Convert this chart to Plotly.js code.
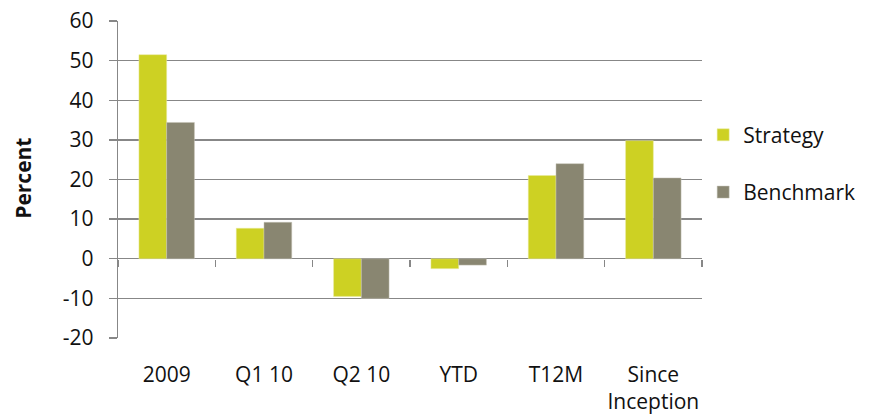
<!DOCTYPE html>
<html>
<head>
<meta charset="utf-8">
<script src="https://cdn.plot.ly/plotly-3.0.1.min.js"></script>
<style>html,body{margin:0;padding:0;background:#fff;}#chart{width:877px;height:417px;}</style>
</head>
<body>
<div id="chart"></div>
<script>
const categories = ["2009", "Q1 10", "Q2 10", "YTD", "T12M", "Since<br>Inception"];
const strategy = [51.5, 7.7, -9.5, -2.5, 21.0, 29.8];
const benchmark = [34.4, 9.2, -10.0, -1.6, 24.0, 20.4];
const seriesNames = ["Strategy", "Benchmark"];
const yTicks = [-20, -10, 0, 10, 20, 30, 40, 50, 60];
const yTickText = ["-20", "-10", "0", "10", "20", "30", "40", "50", "60"];
const yTitle = "Percent";

const FONT = "'Open Sans', Lato, sans-serif";
const GRID = "#878787";
const TXT = "#111111";

const traces = [
  {type: "bar", name: seriesNames[0], x: categories, y: strategy,
   marker: {color: "#cdd123", line: {color: "#e8eba0", width: 0.5}},
   legendgroup: "s", hoverinfo: "skip"},
  {type: "bar", name: seriesNames[1], x: categories, y: benchmark,
   marker: {color: "#898671", line: {color: "#c4c3b6", width: 0.5}},
   legendgroup: "b", hoverinfo: "skip"},
  {type: "scatter", mode: "markers", x: categories, y: categories.map(() => 0),
   xaxis: "x2", yaxis: "y", marker: {opacity: 0, size: 1},
   showlegend: false, hoverinfo: "skip"}
];

const layout = {
  width: 877, height: 417,
  margin: {l: 118, r: 175, t: 21, b: 79},
  paper_bgcolor: "#fff", plot_bgcolor: "#fff",
  font: {family: FONT, size: 21, color: TXT},
  barmode: "group", bargap: 0.43, bargroupgap: 0,
  showlegend: true,
  legend: {x: 1.002, xanchor: "left", y: 0.55, yanchor: "middle",
           traceorder: "grouped", tracegroupgap: 27,
           font: {family: FONT, size: 21, color: TXT}, itemwidth: 30},
  xaxis: {type: "category", showgrid: false, zeroline: false, showline: false,
          ticks: "", tickfont: {family: FONT, size: 21, color: TXT},
          ticklabelstandoff: 22, automargin: false, fixedrange: true},
  xaxis2: {type: "category", overlaying: "x", anchor: "free", position: 0.25,
           side: "bottom", showticklabels: false, showgrid: false, zeroline: false,
           showline: false, ticks: "outside", tickson: "boundaries", ticklen: 7,
           tickcolor: GRID, tickwidth: 1.3, matches: "x", fixedrange: true},
  yaxis: {range: [-20, 60], tickmode: "array", tickvals: yTicks, ticktext: yTickText,
          showgrid: true, gridcolor: GRID,
          gridwidth: 1.3, zeroline: true, zerolinecolor: GRID, zerolinewidth: 1.3,
          showline: true, linecolor: GRID, linewidth: 1.3, ticks: "outside",
          ticklen: 8, tickcolor: GRID, tickwidth: 1.3, ticklabelstandoff: 11,
          tickfont: {family: FONT, size: 21, color: TXT},
          automargin: false, fixedrange: true},
  annotations: [
    {text: "<b>" + yTitle + "</b>", xref: "paper", yref: "paper",
     x: -0.164, y: 0.503, xanchor: "center", yanchor: "middle", textangle: -90,
     showarrow: false, font: {family: FONT, size: 21, color: TXT}}
  ]
};

Plotly.newPlot("chart", traces, layout, {displayModeBar: false, staticPlot: true});
</script>
</body>
</html>
